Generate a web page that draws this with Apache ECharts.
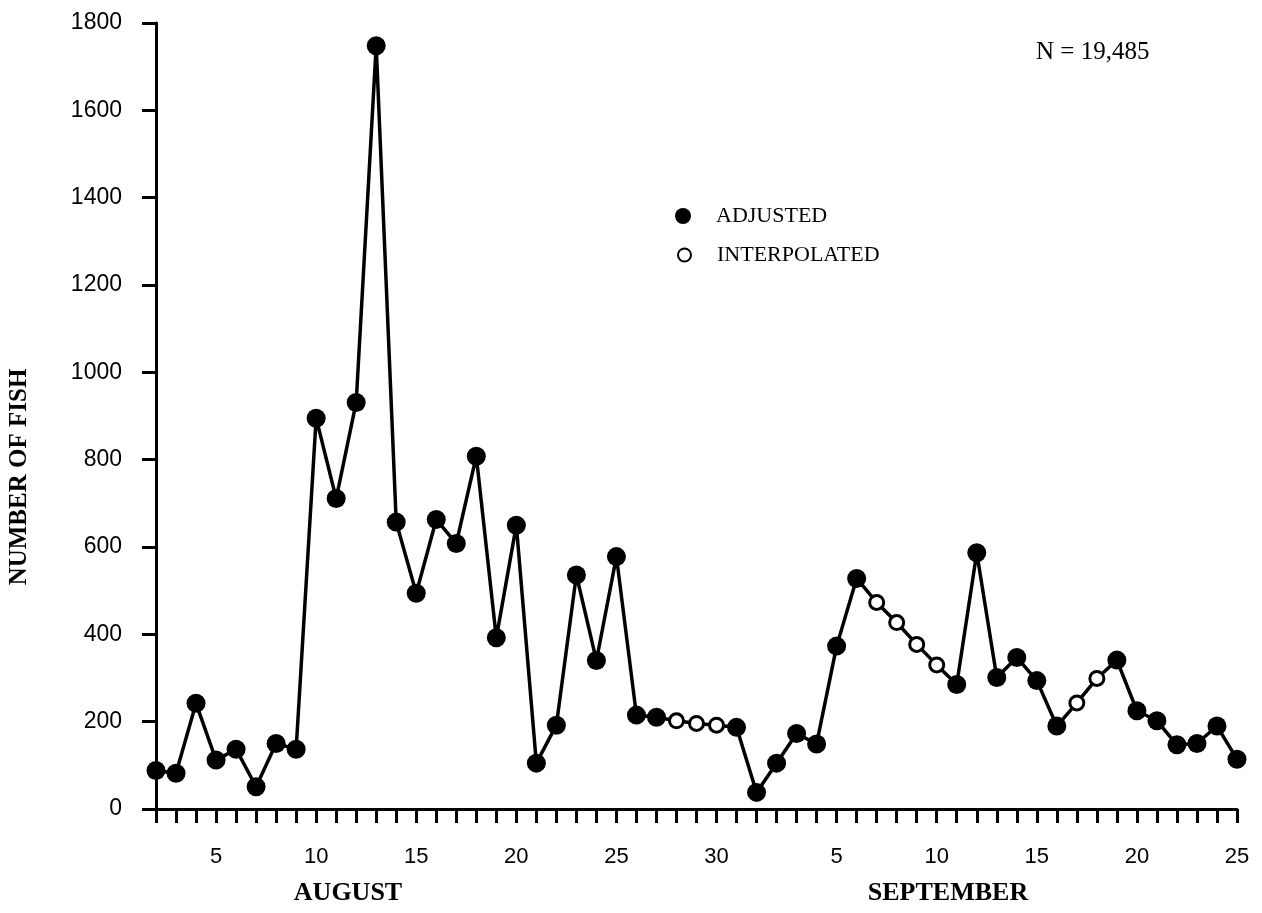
<!DOCTYPE html>
<html>
<head>
<meta charset="utf-8">
<script src="https://cdn.jsdelivr.net/npm/echarts@6/dist/echarts.min.js"></script>
<style>
  html, body { margin: 0; padding: 0; background: #fff; }
  #chart { width: 1262px; height: 913px; }
</style>
</head>
<body>
<div id="chart"></div>
<script>
// ---- Data ----
const augustDays = [2,3,4,5,6,7,8,9,10,11,12,13,14,15,16,17,18,19,20,21,22,23,24,25,26,27,28,29,30,31];
const septemberDays = [1,2,3,4,5,6,7,8,9,10,11,12,13,14,15,16,17,18,19,20,21,22,23,24,25];
const augustCounts = [88,82,242,112,137,51,150,137,895,711,931,1748,657,494,663,608,808,392,650,105,192,536,340,578,215,210,202,196,192,187];
const septemberCounts = [38,105,173,149,373,528,473,427,377,330,285,587,301,347,294,190,243,299,341,225,202,147,150,190,114];
// days whose values were interpolated (open circles)
const interpolatedAugust = [28,29,30];
const interpolatedSeptember = [7,8,9,10,17,18];
const yTicks = [0,200,400,600,800,1000,1200,1400,1600,1800];
const labelledDays = [5,10,15,20,25,30];
const totalText = 'N = 19,485';
const yTitle = 'NUMBER OF FISH';
const monthNames = ['AUGUST', 'SEPTEMBER'];

// ---- Build category axis and series data ----
const categories = augustDays.map(d => 'Aug ' + d).concat(septemberDays.map(d => 'Sep ' + d));
const dayNumbers = augustDays.concat(septemberDays);
const counts = augustCounts.concat(septemberCounts);
const isInterp = augustDays.map(d => interpolatedAugust.includes(d))
  .concat(septemberDays.map(d => interpolatedSeptember.includes(d)));
const adjustedData = counts.map((v, i) => isInterp[i] ? '-' : v);
const interpData = counts.map((v, i) => isInterp[i] ? v : '-');

const chart = echarts.init(document.getElementById('chart'));
const sans = 'Liberation Sans';
const serif = 'Liberation Serif';

chart.setOption({
  backgroundColor: '#fff',
  animation: false,
  grid: { left: 156, right: 25, top: 23, bottom: 104, containLabel: false },
  xAxis: {
    type: 'category',
    data: categories,
    boundaryGap: false,
    axisLine: { lineStyle: { color: '#000', width: 3 } },
    axisTick: { show: true, interval: 0, length: 14, lineStyle: { color: '#000', width: 3 } },
    axisLabel: {
      interval: 0,
      margin: 37,
      color: '#000',
      fontFamily: sans,
      fontSize: 22,
      formatter: (val, idx) => labelledDays.includes(dayNumbers[idx]) ? String(dayNumbers[idx]) : ''
    },
    splitLine: { show: false }
  },
  yAxis: {
    type: 'value',
    min: 0,
    max: yTicks[yTicks.length - 1],
    interval: 200,
    axisLine: { show: true, lineStyle: { color: '#000', width: 3 } },
    axisTick: { show: true, length: 14, lineStyle: { color: '#000', width: 3 } },
    axisLabel: { margin: 34, color: '#000', fontFamily: sans, fontSize: 23, formatter: v => String(v) },
    splitLine: { show: false }
  },
  legend: [
    {
      data: ['ADJUSTED'],
      left: 675, top: 205,
      orient: 'vertical',
      itemWidth: 16, itemHeight: 16,
      padding: 0,
      textStyle: { color: '#000', fontFamily: serif, fontSize: 22, padding: [0, 0, 0, 20] }
    },
    {
      data: ['INTERPOLATED'],
      left: 677, top: 244,
      orient: 'vertical',
      itemWidth: 13, itemHeight: 13,
      padding: 0,
      textStyle: { color: '#000', fontFamily: serif, fontSize: 22, padding: [0, 0, 0, 21] }
    }
  ],
  graphic: [
    { type: 'text', x: 1036, y: 40, style: { text: totalText, fill: '#000', font: '25px "Liberation Serif"' } },
    { type: 'text', x: 20, y: 477, rotation: Math.PI / 2,
      style: { text: yTitle, fill: '#000', font: 'bold 25px "Liberation Serif"', align: 'center', verticalAlign: 'middle' } },
    { type: 'text', x: 348, y: 893, style: { text: monthNames[0], fill: '#000', font: 'bold 26px "Liberation Serif"', align: 'center', verticalAlign: 'middle' } },
    { type: 'text', x: 948, y: 893, style: { text: monthNames[1], fill: '#000', font: 'bold 26px "Liberation Serif"', align: 'center', verticalAlign: 'middle' } }
  ],
  series: [
    {
      type: 'line',
      name: 'trend',
      data: counts,
      showSymbol: false,
      symbol: 'none',
      lineStyle: { color: '#000', width: 3.5 },
      silent: true,
      z: 2
    },
    {
      type: 'scatter',
      name: 'ADJUSTED',
      data: adjustedData,
      symbol: 'circle',
      symbolSize: 19,
      itemStyle: { color: '#000', opacity: 1 },
      z: 3
    },
    {
      type: 'scatter',
      name: 'INTERPOLATED',
      data: interpData,
      symbol: 'circle',
      symbolSize: 14,
      itemStyle: { color: '#fff', borderColor: '#000', borderWidth: 3, opacity: 1 },
      z: 3
    }
  ]
});
</script>
</body>
</html>
